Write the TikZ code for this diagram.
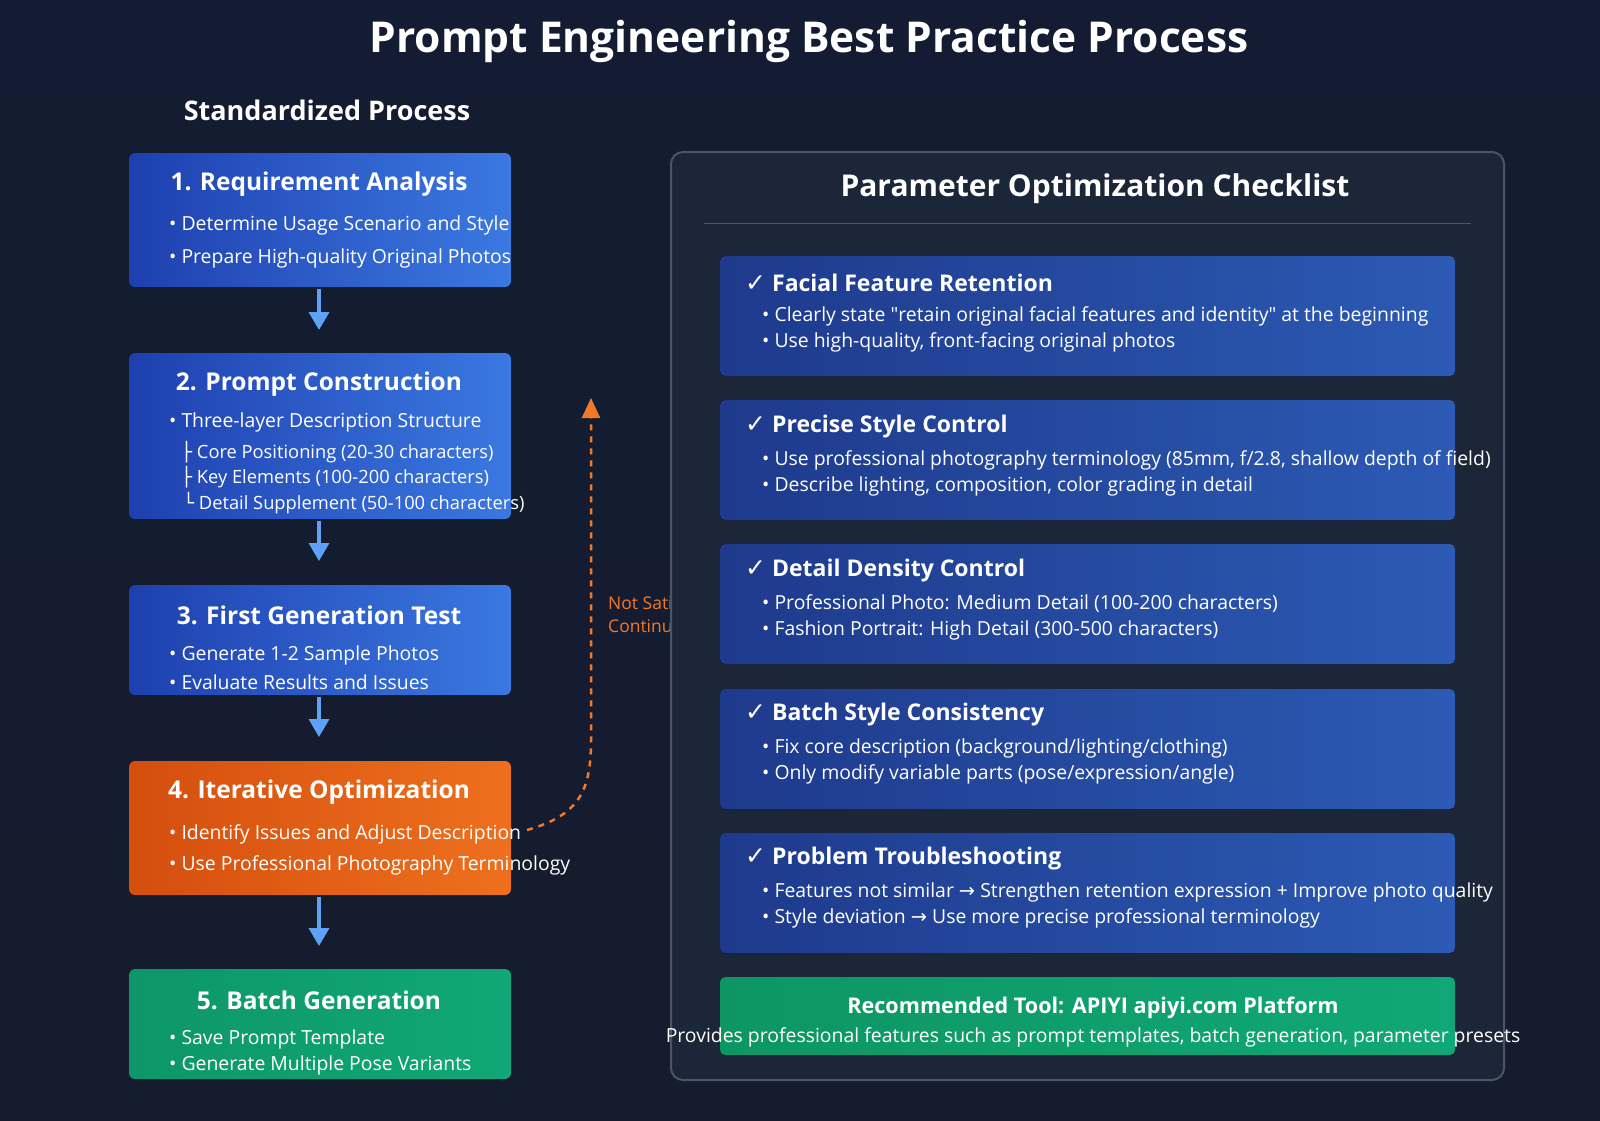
\documentclass[tikz,border=0pt]{standalone}
\usepackage{fontspec}
\setmainfont{Open Sans}
\newfontfamily\djv{DejaVu Sans}
\newfontfamily\osq{Open Sans}
\usetikzlibrary{arrows.meta}
\definecolor{bg}{HTML}{151C2D}
\definecolor{bgtop}{HTML}{141C33}
\definecolor{panel}{HTML}{1C2639}
\definecolor{pborder}{HTML}{4A5568}
\definecolor{arr}{HTML}{5EA2F5}
\definecolor{orng}{HTML}{F07A2A}
\newcommand{\chk}{{\djv\bfseries\fontsize{25}{28}\selectfont ✓}}
\begin{document}
\begin{tikzpicture}[x=1pt,y=-1pt,
  bt/.style={text=white,font=\bfseries\fontsize{24.5}{28}\selectfont,anchor=center},
  bl/.style={text=white,font=\fontsize{19.4}{22}\selectfont,anchor=west,inner sep=0},
  sl/.style={text=white,font=\fontsize{18.3}{21}\selectfont,anchor=west,inner sep=0},
  ct/.style={text=white,font=\bfseries\fontsize{23}{26}\selectfont,anchor=west,inner sep=0},
  down/.style={draw=arr,line width=3.5pt,-{Triangle[width=20pt,length=18pt]}}]
\useasboundingbox (0,0) rectangle (1600,1120);
\fill[top color=bgtop,bottom color=bg] (0,0) rectangle (1600,1120);
\node[text=white,font=\bfseries\fontsize{42.5}{46}\selectfont] (title) at (809,41) {Prompt Engineering Best Practice Process};
\node[text=white,font=\bfseries\fontsize{27}{30}\selectfont] (std) at (327,110) {Standardized Process};
\fill[rounded corners=6pt,left color={rgb,255:red,30;green,64;blue,175},right color={rgb,255:red,59;green,120;blue,225}] (129,153) rectangle (511,287);
\fill[rounded corners=6pt,left color={rgb,255:red,30;green,64;blue,175},right color={rgb,255:red,59;green,120;blue,225}] (129,353) rectangle (511,519);
\fill[rounded corners=6pt,left color={rgb,255:red,30;green,64;blue,175},right color={rgb,255:red,59;green,120;blue,225}] (129,585) rectangle (511,695);
\fill[rounded corners=6pt,left color={rgb,255:red,212;green,78;blue,14},right color={rgb,255:red,238;green,112;blue,30}] (129,761) rectangle (511,895);
\fill[rounded corners=6pt,left color={rgb,255:red,14;green,150;blue,104},right color={rgb,255:red,16;green,168;blue,118}] (129,969) rectangle (511,1079);
\coordinate (a1s) at (319,289); \coordinate (a1e) at (319,330);
\coordinate (a2s) at (319,521); \coordinate (a2e) at (319,561);
\coordinate (a3s) at (319,697); \coordinate (a3e) at (319,737);
\coordinate (a4s) at (319,897); \coordinate (a4e) at (319,946);
\draw[down] (a1s) -- (a1e);
\draw[down] (a2s) -- (a2e);
\draw[down] (a3s) -- (a3e);
\draw[down] (a4s) -- (a4e);
\node[bt] (t1) at (319,184) {1. Requirement Analysis};
\node[bl] (t1a) at (169,225) {• Determine Usage Scenario and Style};
\node[bl] (t1b) at (169,258) {• Prepare High-quality Original Photos};
\node[bt] (t2) at (319,384) {2. Prompt Construction};
\node[bl] (t2a) at (169,422) {• Three-layer Description Structure};
\node[sl] (t2b) at (181,452) {{\djv ├} Core Positioning (20-30 characters)};
\node[sl] (t2c) at (181,477) {{\djv ├} Key Elements (100-200 characters)};
\node[sl] (t2d) at (183,503) {{\djv └} Detail Supplement (50-100 characters)};
\node[bt] (t3) at (319,615) {3. First Generation Test};
\node[bl] (t3a) at (169,655) {• Generate 1-2 Sample Photos};
\node[bl] (t3b) at (169,682) {• Evaluate Results and Issues};
\node[bt] (t4) at (319,792) {4. Iterative Optimization};
\node[bl] (t4a) at (169,834) {• Identify Issues and Adjust Description};
\node[bl] (t4b) at (169,865) {• Use Professional Photography Terminology};
\node[bt] (t5) at (319,1000) {5. Batch Generation};
\node[bl] (t5a) at (169,1039) {• Save Prompt Template};
\node[bl] (t5b) at (169,1065) {• Generate Multiple Pose Variants};
\coordinate (fs) at (527,830); \coordinate (fe) at (591,398);
\draw[orng,line width=2.5pt,dash pattern=on 6pt off 6pt,-{Triangle[width=18pt,length=20pt]}] (fs) .. controls (580,815) and (591,790) .. (591,740) -- (fe);
\node[text=orng,font=\fontsize{17.5}{23}\selectfont,align=left,anchor=west,inner sep=0] (fl) at (608,614) {Not Satisfied,\\Continue};
\filldraw[fill=panel,draw=pborder,line width=2pt,rounded corners=12pt] (671,152) rectangle (1504,1080);
\node[text=white,font=\bfseries\fontsize{30}{34}\selectfont] (pt) at (1095,189) {Parameter Optimization Checklist};
\coordinate (l1) at (704,223); \coordinate (l2) at (1471,223);
\draw[pborder,line width=1pt] (l1) -- (l2);
\foreach \y in {256,400,544,689,833}{
 \fill[rounded corners=5pt,left color={rgb,255:red,30;green,58;blue,140},right color={rgb,255:red,44;green,90;blue,180}] (720,\y) rectangle (1455,\y+120);
}
\fill[rounded corners=5pt,left color={rgb,255:red,13;green,150;blue,100},right color={rgb,255:red,16;green,168;blue,118}] (720,977) rectangle (1455,1055);
\node[ct] (c1) at (745,283) {\chk\ Facial Feature Retention};
\node[bl] (c1a) at (762,316) {• Clearly state {\osq "}retain original facial features and identity{\osq "} at the beginning};
\node[bl] (c1b) at (762,342) {• Use high-quality, front-facing original photos};
\node[ct] (c2) at (745,427) {\chk\ Precise Style Control};
\node[bl] (c2a) at (762,460) {• Use professional photography terminology (85mm, f/2.8, shallow depth of field)};
\node[bl] (c2b) at (762,486) {• Describe lighting, composition, color grading in detail};
\node[ct] (c3) at (745,571) {\chk\ Detail Density Control};
\node[bl] (c3a) at (762,604) {• Professional Photo: Medium Detail (100-200 characters)};
\node[bl] (c3b) at (762,630) {• Fashion Portrait: High Detail (300-500 characters)};
\node[ct] (c4) at (745,715) {\chk\ Batch Style Consistency};
\node[bl] (c4a) at (762,748) {• Fix core description (background/lighting/clothing)};
\node[bl] (c4b) at (762,774) {• Only modify variable parts (pose/expression/angle)};
\node[ct] (c5) at (745,859) {\chk\ Problem Troubleshooting};
\node[bl] (c5a) at (762,892) {• Features not similar {\djv →} Strengthen retention expression + Improve photo quality};
\node[bl] (c5b) at (762,918) {• Style deviation {\djv →} Use more precise professional terminology};
\node[text=white,font=\bfseries\fontsize{21.6}{24}\selectfont] (g1) at (1093,1008) {Recommended Tool: APIYI apiyi.com Platform};
\node[text=white,font=\fontsize{19.4}{22}\selectfont] (g2) at (1093,1037) {Provides professional features such as prompt templates, batch generation, parameter presets};
\end{tikzpicture}
\end{document}
